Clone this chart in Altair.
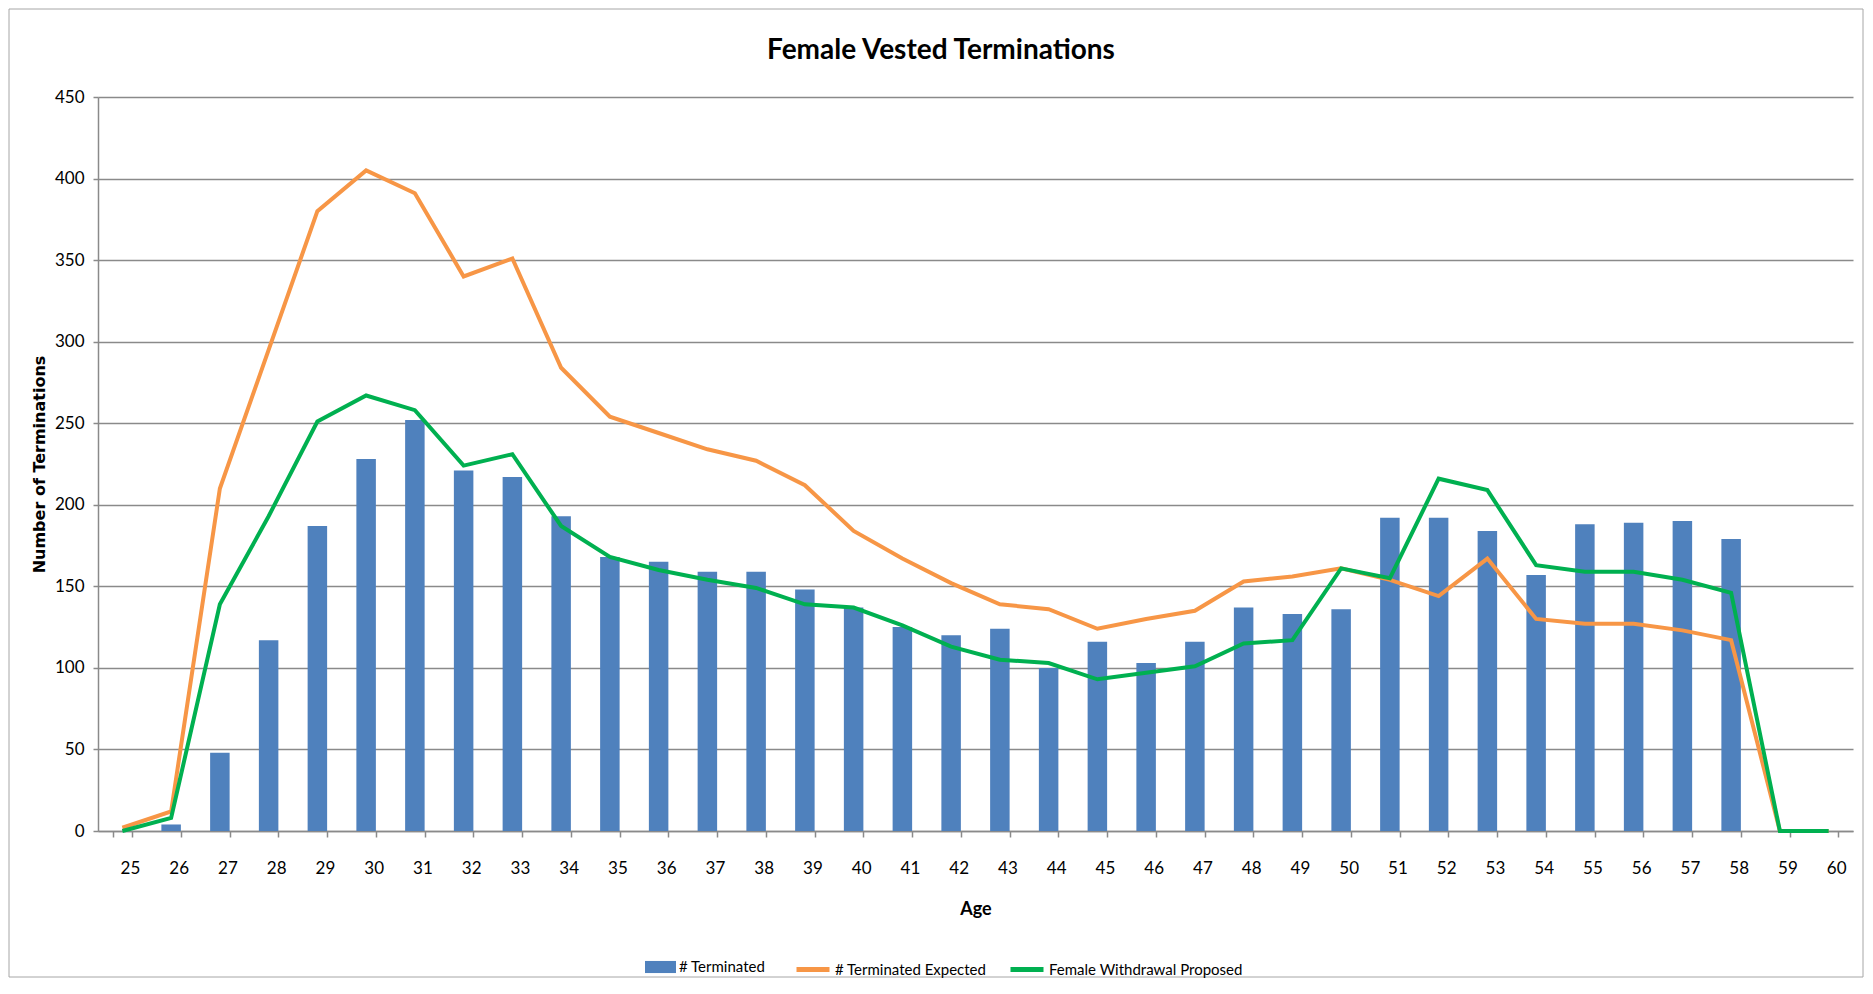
import altair as alt
import pandas as pd

# ---- data ----
ages = list(range(25, 61))
terminated = [0, 4, 48, 117, 187, 228, 252, 221, 217, 193, 168, 165, 159, 159, 148, 137,
              125, 120, 124, 100, 116, 103, 116, 137, 133, 136, 192, 192, 184, 157, 188,
              189, 190, 179, 0, 0]
expected = [2, 12, 210, 295, 380, 405, 391, 340, 351, 284, 254, 244, 234, 227, 212, 184,
            167, 152, 139, 136, 124, 130, 135, 153, 156, 161, 154, 144, 167, 130, 127,
            127, 123, 117, 0, 0]
proposed = [0, 8, 139, 193, 251, 267, 258, 224, 231, 187, 168, 160, 154, 149, 139, 137,
            126, 113, 105, 103, 93, 97, 101, 115, 117, 161, 155, 216, 209, 163, 159,
            159, 154, 146, 0, 0]
y_ticks = list(range(0, 451, 50))

S_BAR = "# Terminated"
S_EXP = "# Terminated Expected"
S_PROP = "Female Withdrawal Proposed"
TITLE = "Female Vested Terminations"

bar_df = pd.DataFrame({"Age": ages, "value": terminated, "series": S_BAR})
exp_df = pd.DataFrame({"Age": ages, "value": expected, "series": S_EXP})
prop_df = pd.DataFrame({"Age": ages, "value": proposed, "series": S_PROP})

FONT = "Lato"
GRID = "#8a8a8a"
W, H = 1755, 734

x_enc = alt.X(
    "Age:O",
    scale=alt.Scale(paddingInner=0.6, paddingOuter=0.3),
    axis=alt.Axis(
        title="Age", labelAngle=0, grid=False, tickBand="extent", labelOffset=7.5,
        tickSize=6, labelPadding=36, labelBaseline="alphabetic",
        titleX=W / 2, titleY=83, titleBaseline="alphabetic", titleAlign="center",
        titleFont=FONT, titleFontSize=18, titleFontWeight="bold",
    ),
)
y_enc = alt.Y(
    "value:Q",
    scale=alt.Scale(domain=[0, 450], nice=False),
    axis=alt.Axis(
        title="Number of Terminations", values=y_ticks, grid=True, tickSize=5,
        labelPadding=9, titleX=-58.5, titleY=H / 2, titleAngle=270,
        titleBaseline="middle", titleAlign="center",
        titleFont="DejaVu Sans", titleFontSize=16, titleFontWeight="bold",
    ),
)

bars = alt.Chart(bar_df).mark_bar(color="#4F81BD").encode(
    x=x_enc, y=y_enc,
    fill=alt.Fill(
        "series:N",
        scale=alt.Scale(domain=[S_BAR], range=["#4F81BD"]),
        legend=alt.Legend(
            orient="none", legendX=547, legendY=854.5, title=None,
            symbolType="M-1,-0.39H1V0.39H-1Z", symbolSize=961, symbolStrokeWidth=0,
            labelFont=FONT, labelFontSize=15, labelColor="black", labelOffset=3,
            labelLimit=0, padding=0,
        ),
    ),
)

stroke_scale = alt.Scale(domain=[S_EXP, S_PROP], range=["#F79646", "#00B050"])
stroke_legend = alt.Legend(
    orient="none", legendX=696, legendY=853.5, title=None, direction="horizontal",
    symbolType="stroke", symbolSize=1089, symbolStrokeWidth=5,
    labelFont=FONT, labelFontSize=15, labelColor="black", labelOffset=3,
    labelLimit=0, columnPadding=13, padding=0,
)

line_exp = alt.Chart(exp_df).mark_line(strokeWidth=4).encode(
    x=x_enc, y=y_enc, stroke=alt.Stroke("series:N", scale=stroke_scale, legend=stroke_legend)
)
line_prop = alt.Chart(prop_df).mark_line(strokeWidth=4).encode(
    x=x_enc, y=y_enc, stroke=alt.Stroke("series:N", scale=stroke_scale, legend=stroke_legend)
)

frame = alt.Chart(pd.DataFrame({"k": [0]})).mark_rect(
    fill="white", fillOpacity=0, stroke="#a6a6a6", strokeWidth=1
).encode(x=alt.value(-89), x2=alt.value(1765), y=alt.value(-88), y2=alt.value(880))

title = alt.Chart(pd.DataFrame({"t": [TITLE]})).mark_text(
    font=FONT, fontSize=28, fontWeight="bold", align="center", baseline="alphabetic",
    color="black",
).encode(text="t:N", x=alt.value(843), y=alt.value(-38))

chart = (
    alt.layer(frame, bars, line_exp, line_prop, title)
    .properties(width=W, height=H, padding=0, background="white")
    .configure_view(strokeWidth=0)
    .configure_axis(
        gridColor=GRID, gridWidth=1.5, domainColor=GRID, domainWidth=1.5,
        tickColor=GRID, tickWidth=1.5, labelFont=FONT, labelFontSize=17,
        labelColor="black", titleColor="black",
    )
)

chart.save("out.html", embed_options={"renderer": "svg", "actions": False})
